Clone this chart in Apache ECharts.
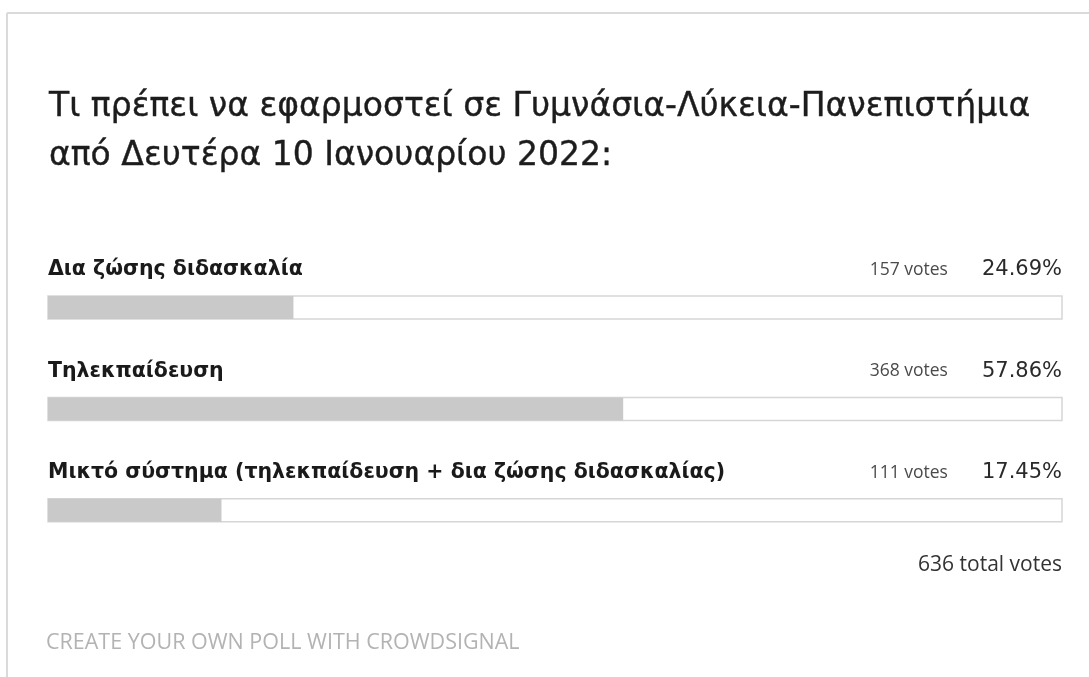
<!DOCTYPE html>
<html>
<head>
<meta charset="utf-8">
<script src="https://cdn.jsdelivr.net/npm/echarts@6/dist/echarts.min.js"></script>
<style>
  html, body { margin: 0; padding: 0; background: #fff; }
  #chart { width: 1089px; height: 677px; }
</style>
</head>
<body>
<div id="chart"></div>
<script>
// poll data
const titleLines = [
  'Τι πρέπει να εφαρμοστεί σε Γυμνάσια-Λύκεια-Πανεπιστήμια',
  'από Δευτέρα 10 Ιανουαρίου 2022:'
]
const answers = [
  'Δια ζώσης διδασκαλία',
  'Τηλεκπαίδευση',
  'Μικτό σύστημα (τηλεκπαίδευση + δια ζώσης διδασκαλίας)'
]
const votes = [157, 368, 111]
const percents = [24.69, 57.86, 17.45]
const footerText = 'CREATE YOUR OWN POLL WITH CROWDSIGNAL'

const totalVotes = votes.reduce((a, b) => a + b, 0)
const scaleMax = 102

const chart = echarts.init(document.getElementById('chart'))

chart.setOption({
  backgroundColor: '#fff',
  animation: false,
  title: {
    text: titleLines.join('\n'),
    left: 44,
    top: 78,
    textStyle: {
      fontFamily: 'DejaVu Sans',
      fontSize: 33,
      fontWeight: 'normal',
      lineHeight: 49,
      color: '#1c1c1c',
      textBorderColor: '#1c1c1c',
      textBorderWidth: 0.4
    }
  },
  grid: { left: 48, right: 27, top: 256.75, bottom: 116 },
  xAxis: { type: 'value', min: 0, max: scaleMax, show: false },
  yAxis: { type: 'category', data: answers, inverse: true, show: false },
  series: [
    {
      type: 'bar',
      data: percents,
      barWidth: 23,
      itemStyle: { color: '#c9c9c9' },
      showBackground: true,
      backgroundStyle: { color: '#fff', borderColor: '#d6d6d6', borderWidth: 1.5 },
      label: {
        show: true,
        position: [0, -26],
        align: 'left',
        verticalAlign: 'middle',
        formatter: (p) => answers[p.dataIndex],
        fontFamily: 'DejaVu Sans',
        fontWeight: 'bold',
        fontSize: 20.5,
        color: '#1a1a1a'
      },
      z: 2
    },
    {
      type: 'bar',
      data: percents.map(() => scaleMax),
      barWidth: 23,
      barGap: '-100%',
      silent: true,
      itemStyle: { color: 'rgba(0,0,0,0)' },
      label: {
        show: true,
        position: ['100%', -26],
        align: 'right',
        verticalAlign: 'middle',
        formatter: (p) => '{v|' + votes[p.dataIndex] + ' votes}{p|' + percents[p.dataIndex].toFixed(2) + '%}',
        rich: {
          v: { fontFamily: 'Open Sans', fontSize: 17.5, color: '#4a4a4a', padding: [0, 34, 0, 0] },
          p: { fontFamily: 'DejaVu Sans', fontSize: 21, color: '#2a2a2a' }
        }
      },
      z: 3
    }
  ],
  graphic: [
    {
      type: 'line',
      shape: { x1: 7, y1: 13, x2: 1089, y2: 13 },
      style: { stroke: '#dadada', lineWidth: 2 }
    },
    {
      type: 'line',
      shape: { x1: 7, y1: 13, x2: 7, y2: 677 },
      style: { stroke: '#dadada', lineWidth: 2 }
    },
    {
      type: 'text',
      right: 27,
      top: 555,
      style: {
        text: totalVotes + ' total votes',
        fontFamily: 'Open Sans',
        fontSize: 21,
        fill: '#333'
      }
    },
    {
      type: 'text',
      left: 46,
      top: 632,
      style: {
        text: footerText,
        fontFamily: 'Open Sans',
        fontSize: 21.5,
        fill: '#b3b3b3'
      }
    }
  ]
})
</script>
</body>
</html>
